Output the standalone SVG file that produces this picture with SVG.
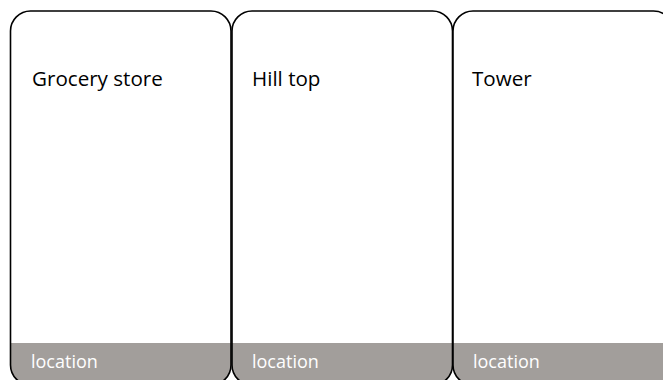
<svg xmlns="http://www.w3.org/2000/svg" width="663" height="380" viewBox="0 0 663 380">
<defs>
<style>
.card{fill:#fff;stroke:none}
.edge{fill:none;stroke:#000;stroke-width:1.6}
.band{fill:#a29e9b}
.title{font-family:"Open Sans","Noto Sans",sans-serif;font-size:20.6px;fill:#000}
.loc{font-family:"Open Sans","Noto Sans",sans-serif;font-size:18px;fill:#fff}
</style>
<clipPath id="c1"><rect x="10.5" y="11" width="220.5" height="374" rx="20" ry="20"/></clipPath>
<clipPath id="c2"><rect x="232" y="11" width="220.5" height="374" rx="20" ry="20"/></clipPath>
<clipPath id="c3"><rect x="453" y="11" width="220.5" height="374" rx="20" ry="20"/></clipPath>
</defs>
<rect width="663" height="380" fill="#fff"/>
<g id="card1">
<rect class="card" x="10.5" y="11" width="220.5" height="374" rx="20" ry="20"/>
<rect class="band" x="0" y="343" width="663" height="50" clip-path="url(#c1)"/>
<rect class="edge" x="10.5" y="11" width="220.5" height="374" rx="20" ry="20"/>
<text class="title" x="32" y="86">Grocery store</text>
<text class="loc" x="31" y="368">location</text>
</g>
<g id="card2">
<rect class="card" x="232" y="11" width="220.5" height="374" rx="20" ry="20"/>
<rect class="band" x="0" y="343" width="663" height="50" clip-path="url(#c2)"/>
<rect class="edge" x="232" y="11" width="220.5" height="374" rx="20" ry="20"/>
<text class="title" x="252" y="86">Hill top</text>
<text class="loc" x="252" y="368">location</text>
</g>
<g id="card3">
<rect class="card" x="453" y="11" width="220.5" height="374" rx="20" ry="20"/>
<rect class="band" x="0" y="343" width="663" height="50" clip-path="url(#c3)"/>
<rect class="edge" x="453" y="11" width="220.5" height="374" rx="20" ry="20"/>
<text class="title" x="472" y="86">Tower</text>
<text class="loc" x="473" y="368">location</text>
</g>
<g id="connectors"></g>
</svg>
